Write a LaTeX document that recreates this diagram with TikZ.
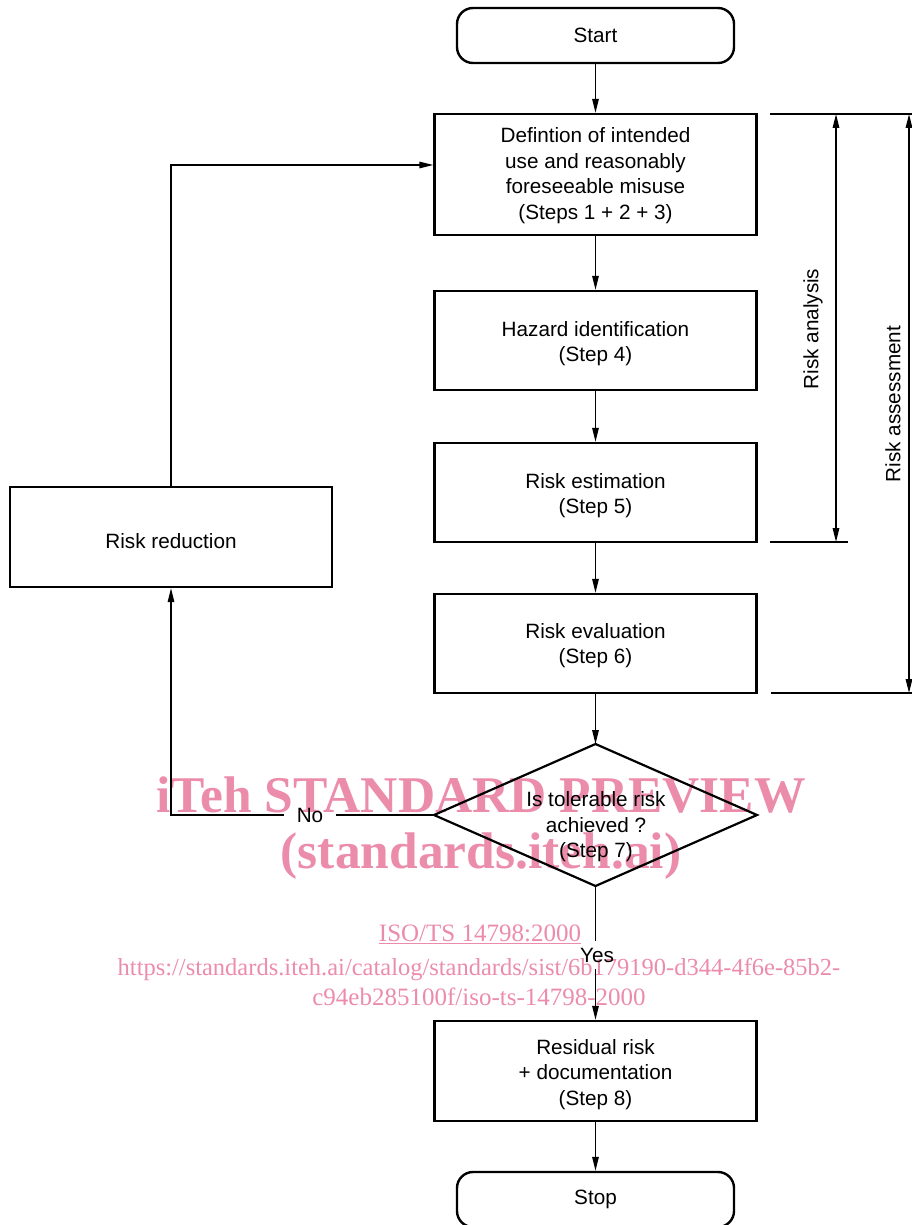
\documentclass[tikz,border=0pt]{standalone}
\usepackage{fontspec}
\setmainfont{Liberation Sans}
\newfontfamily\wmfont{Liberation Serif}
\usetikzlibrary{arrows.meta,calc}
\definecolor{wmpink}{HTML}{EC8CAB}
\newcommand\dfont{\fontsize{20.7}{25.5}\selectfont}
\newcommand\wmbig{\wmfont\bfseries\fontsize{51.5}{51.5}\selectfont}
\newcommand\wmsmall{\wmfont\fontsize{25}{25}\selectfont}
\newcommand\wmurl{\wmfont\fontsize{24.5}{24.5}\selectfont}
\begin{document}
\begin{tikzpicture}[x=1pt,y=-1pt,
  box/.style={draw, line width=2.4pt, minimum width=322pt, inner sep=0pt, align=center, font=\dfont},
  term/.style={box, rounded corners=16pt, minimum width=277pt, minimum height=55pt},
  conn/.style={line width=1.4pt, -{Triangle[length=14pt,width=6.5pt]}},
  dimline/.style={line width=1.4pt, {Triangle[length=14pt,width=6.5pt]}-{Triangle[length=14pt,width=6.5pt]}},
  ext/.style={line width=1.4pt},
  lbl/.style={font=\dfont, inner sep=0pt, align=center},
  wmk/.style={text=wmpink, inner sep=0pt, anchor=base}]
\useasboundingbox (0,0) rectangle (912,1225);
\clip (0,0) rectangle (912,1225);
% watermark (underneath)
\node[wmk, font=\wmbig] (wm1) at (481,812) {iTeh STANDARD PREVIEW};
\node[wmk, font=\wmbig] (wm2) at (481,868) {(standards.iteh.ai)};
\node[wmk, font=\wmsmall] (wm3) at (480,941) {\underline{ISO/TS 14798:2000}};
\node[wmk, font=\wmurl] (wm4) at (479,975) {https://standards.iteh.ai/catalog/standards/sist/6b179190-d344-4f6e-85b2-};
\node[wmk, font=\wmsmall] (wm5) at (479,1005) {c94eb285100f/iso-ts-14798-2000};
% boxes
\node[term] (start) at (595.5,35.5) {Start};
\node[box, minimum height=121pt] (b1) at (595.5,174.5) {};
\node[lbl] (b1t) at ([yshift=-1pt]b1.center) {Defintion of intended\\use and reasonably\\foreseeable misuse\\(Steps 1 + 2 + 3)};
\node[box, minimum height=99pt] (b2) at (595.5,340.5) {};
\node[lbl] (b2t) at ([yshift=-3pt]b2.center) {Hazard identification\\(Step 4)};
\node[box, minimum height=99pt] (b3) at (595.5,492.5) {};
\node[lbl] (b3t) at ([yshift=-3pt]b3.center) {Risk estimation\\(Step 5)};
\node[box, minimum height=99pt] (b4) at (595.5,643.5) {};
\node[lbl] (b4t) at ([yshift=-2pt]b4.center) {Risk evaluation\\(Step 6)};
\coordinate (dt) at (595.5,744);
\coordinate (dr) at (757,815);
\coordinate (db) at (595.5,886);
\coordinate (dl) at (434,815);
\draw[line width=2.2pt, line join=miter] (dt) -- (dr) -- (db) -- (dl) -- cycle;
\node[lbl] (dtext) at (596,827) {Is tolerable risk\\achieved ?\\(Step 7)};
\node[box, minimum height=100pt] (b5) at (595.5,1071) {};
\node[lbl] (b5t) at ([yshift=-3.5pt]b5.center) {Residual risk\\+ documentation\\(Step 8)};
\node[term] (stop) at (595.5,1199.5) {Stop};
\node[box, minimum height=100pt] (rr) at (171,537) {};
\node[lbl] (rrt) at ([yshift=-4.5pt]rr.center) {Risk reduction};
\node[lbl, inner xsep=13pt] (no) at (310,815) {No};
\node[lbl, inner ysep=7pt] (yes) at (597,955) {Yes};
% connectors
\draw[conn] (start.south) -- (b1.north);
\draw[conn] (b1.south) -- (b2.north);
\draw[conn] (b2.south) -- (b3.north);
\draw[conn] (b3.south) -- (b4.north);
\draw[conn] (b4.south) -- (dt);
\draw[ext] (db) -- (db |- yes.north);
\draw[conn] (db |- yes.south) -- (b5.north);
\draw[conn] (b5.south) -- (stop.north);
\draw[ext] (dl) -- (no.east);
\draw[conn] (no.west) -| (rr.south);
\coordinate (c2) at (171,165);
\draw[conn] (rr.north) -- (c2) -- (c2 -| b1.west);
% dimension lines
\coordinate (e1a) at (770,114); \coordinate (e1b) at (912,114);
\coordinate (e2a) at (770,542); \coordinate (e2b) at (848,542);
\coordinate (e3a) at (771,693); \coordinate (e3b) at (912,693);
\draw[ext] (e1a) -- (e1b);
\draw[ext] (e2a) -- (e2b);
\draw[ext] (e3a) -- (e3b);
\coordinate (ra1) at (836,114); \coordinate (ra2) at (836,542);
\coordinate (as1) at (909,114); \coordinate (as2) at (909,693);
\draw[dimline] (ra1) -- (ra2);
\draw[dimline] (as1) -- (as2);
\node[lbl, rotate=90] (lra) at (813,329) {Risk analysis};
\node[lbl, rotate=90] (las) at (893,404) {Risk assessment};
\end{tikzpicture}
\end{document}
